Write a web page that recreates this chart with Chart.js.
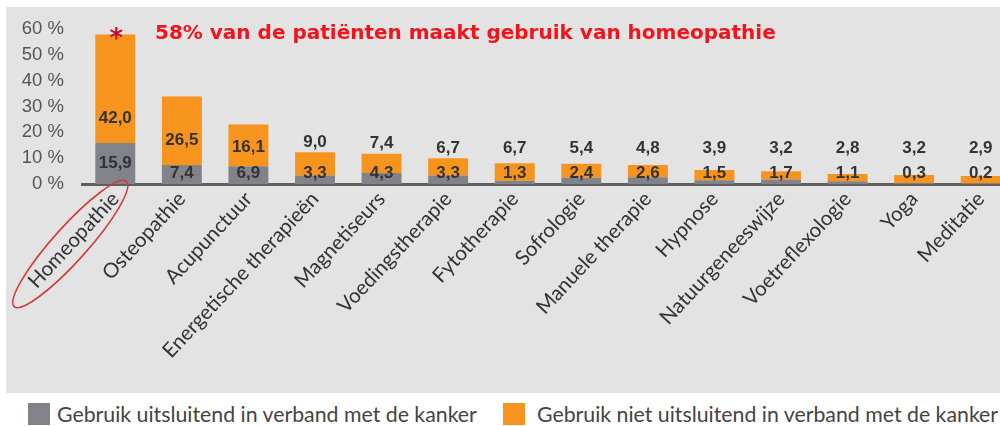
<!DOCTYPE html>
<html>
<head>
<meta charset="utf-8">
<script src="https://cdn.jsdelivr.net/npm/chart.js@4.4.1/dist/chart.umd.min.js"></script>
<style>
  html, body { margin: 0; padding: 0; background: #fff; overflow: hidden; }
  body { width: 1000px; height: 426px; position: relative; }
  .paneel { position: absolute; left: 6px; top: 7px; width: 994px; height: 386px; background: #e3e3e3; }
  .grafiek { position: absolute; left: 0; top: 0; width: 1014px; height: 393px; }
  .titel { position: absolute; left: 155px; top: 20px; color: #f2131b; font: bold 20px "DejaVu Sans", sans-serif; white-space: nowrap; }
  .legende { position: absolute; top: 403px; left: 0; font: 21.3px Lato, sans-serif; color: #444; white-space: nowrap; }
  .legende span { position: absolute; top: 0; }
  .legende i { position: absolute; top: 0; width: 22px; height: 22px; }
</style>
</head>
<body>
<div class="paneel"></div>
<div class="grafiek"><canvas id="therapieen"></canvas></div>
<div class="titel">58% van de patiënten maakt gebruik van homeopathie</div>
<div class="legende">
  <i style="left:28px;background:#82828a"></i><span style="left:57px;top:-2px">Gebruik uitsluitend in verband met de kanker</span>
  <i style="left:503px;background:#f7941d"></i><span style="left:537px;top:-2px">Gebruik niet uitsluitend in verband met de kanker</span>
</div>
<script>
const categorieen = ["Homeopathie", "Osteopathie", "Acupunctuur", "Energetische therapieën", "Magnetiseurs",
    "Voedingstherapie", "Fytotherapie", "Sofrologie", "Manuele therapie", "Hypnose",
    "Natuurgeneeswijze", "Voetreflexologie", "Yoga", "Meditatie"];
const uitsluitend = [15.9, 7.4, 6.9, 3.3, 4.3, 3.3, 1.3, 2.4, 2.6, 1.5, 1.7, 1.1, 0.3, 0.2];
const nietUitsluitend = [42.0, 26.5, 16.1, 9.0, 7.4, 6.7, 6.7, 5.4, 4.8, 3.9, 3.2, 2.8, 3.2, 2.9];
const yTicks = [0, 10, 20, 30, 40, 50, 60];

const GRIJS = "#82828a";
const ORANJE = "#f7941d";

function komma(v) {
    return v.toFixed(1).replace(".", ",");
}

// waarden in en boven de staven, plus sterretje en rode ovaal
const labelsPlugin = {
    id: "labels",
    afterDatasetsDraw(chart) {
        const ctx = chart.ctx;
        const y = chart.scales.y;
        const x = chart.scales.x;
        const nul = y.getPixelForValue(0);
        const grijsMeta = chart.getDatasetMeta(0);
        ctx.save();
        ctx.font = "bold 17px 'Liberation Sans', Arial, sans-serif";
        ctx.textAlign = "center";
        ctx.textBaseline = "middle";
        ctx.fillStyle = "#333";
        categorieen.forEach((c, i) => {
            const bx = grijsMeta.data[i].x;
            const g = uitsluitend[i];
            const o = nietUitsluitend[i];
            // grijze waarde
            const gy = Math.min(y.getPixelForValue(g / 2), nul - 11);
            ctx.fillText(komma(g), bx, gy);
            // oranje waarde
            let v;
            if (o >= 12) {
                v = Math.max(Math.min(g + 9.5, g + o * 0.45), 13.7);
            } else {
                v = Math.max(g + o + 4, 13.7);
            }
            ctx.fillText(komma(o), bx, y.getPixelForValue(v));
        });

        // sterretje boven homeopathie
        const top = y.getPixelForValue(uitsluitend[0] + nietUitsluitend[0]);
        ctx.fillStyle = "#c8102e";
        ctx.font = "bold 26px 'DejaVu Sans', sans-serif";
        ctx.fillText("*", grijsMeta.data[0].x + 1, top + 6);

        // ovaal rond het label
        const tx = x.getPixelForValue(0);
        ctx.strokeStyle = "#d33c3c";
        ctx.lineWidth = 1.6;
        ctx.beginPath();
        ctx.ellipse(tx - 45, nul + 60, 84, 17, -0.84, 0, Math.PI * 2);
        ctx.stroke();
        ctx.restore();
    }
};

const ctx = document.getElementById("therapieen").getContext("2d");
const grafiek = new Chart(ctx, {
    type: "bar",
    data: {
        labels: categorieen,
        datasets: [{
            label: "Gebruik uitsluitend in verband met de kanker",
            data: uitsluitend,
            backgroundColor: GRIJS,
            barPercentage: 0.6,
            categoryPercentage: 1
        }, {
            label: "Gebruik niet uitsluitend in verband met de kanker",
            data: nietUitsluitend,
            backgroundColor: ORANJE,
            barPercentage: 0.6,
            categoryPercentage: 1
        }]
    },
    options: {
        responsive: true,
        maintainAspectRatio: false,
        animation: false,
        layout: { padding: { top: 27, left: 0, right: 0, bottom: 0 } },
        plugins: {
            legend: { display: false },
            tooltip: { enabled: false }
        },
        scales: {
            x: {
                stacked: true,
                grid: { display: false, drawTicks: false },
                border: { display: true, color: "#5f5f5f", width: 3 },
                ticks: {
                    color: "#333",
                    font: { family: "Lato", size: 20.5 },
                    minRotation: 47,
                    maxRotation: 47,
                    autoSkip: false,
                    padding: 3
                },
                afterFit(scale) { scale.height = 209; }
            },
            y: {
                stacked: true,
                min: 0,
                max: 60,
                grid: { display: false, drawTicks: false },
                border: { display: false },
                afterBuildTicks(scale) { scale.ticks = yTicks.map(v => ({ value: v })); },
                ticks: {
                    color: "#555",
                    font: { family: "Liberation Sans", size: 18.5 },
                    padding: 18,
                    callback: v => v + " %"
                },
                afterFit(scale) { scale.width = 82; }
            }
        }
    },
    plugins: [labelsPlugin]
});
</script>
</body>
</html>
